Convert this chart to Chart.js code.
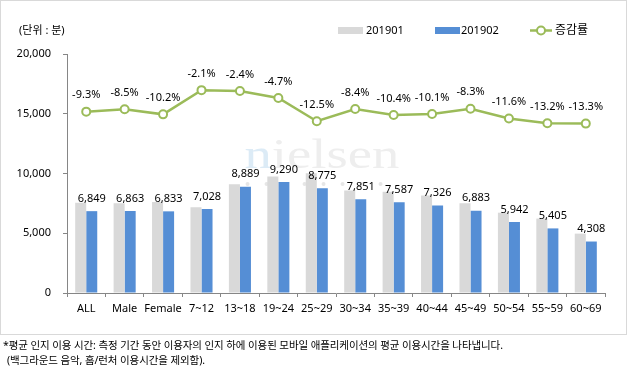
<!DOCTYPE html>
<html>
<head>
<meta charset="utf-8">
<script src="https://cdn.jsdelivr.net/npm/chart.js@4.4.1/dist/chart.umd.min.js"></script>
<style>
  html, body { margin: 0; padding: 0; background: #fff; }
  #wrap { position: relative; width: 630px; height: 383px; overflow: hidden; }
  #frame { position: absolute; left: 0; top: 0; width: 625px; height: 333px; border: 1px solid #D9D9D9; pointer-events: none; }
  #c { position: absolute; left: 0; top: 0; }
  .note { position: absolute; font-family: 'Noto Sans', 'Noto Sans CJK KR', sans-serif; font-size: 10.5px; color: #000; white-space: nowrap; line-height: 14px; }
</style>
</head>
<body>
<div id="wrap">
  <canvas id="c" width="630" height="383"></canvas>
  <div id="frame"></div>
  <div class="note" style="left:3px; top:338px; letter-spacing:-0.1px;">*평균 인지 이용 시간: 측정 기간 동안 이용자의 인지 하에 이용된 모바일 애플리케이션의 평균 이용시간을 나타냅니다.</div>
  <div class="note" style="left:7px; top:353px; letter-spacing:-0.1px;">(백그라운드 음악, 홈/런처 이용시간을 제외함).</div>
</div>
<script>
// ---- data ----
const categories = ['ALL', 'Male', 'Female', '7~12', '13~18', '19~24', '25~29', '30~34', '35~39', '40~44', '45~49', '50~54', '55~59', '60~69'];
const series201901 = [7551, 7501, 7609, 7179, 9108, 9748, 10029, 8571, 8468, 8149, 7506, 6722, 6227, 4969];
const series201902 = [6849, 6863, 6833, 7028, 8889, 9290, 8775, 7851, 7587, 7326, 6883, 5942, 5405, 4308];
const changeRate = [-9.3, -8.5, -10.2, -2.1, -2.4, -4.7, -12.5, -8.4, -10.4, -10.1, -8.3, -11.6, -13.2, -13.3];
const yTicks = [0, 5000, 10000, 15000, 20000];
const legendLabels = ['201901', '201902', '증감률'];
const unitLabel = '(단위 : 분)';
const watermarkText = 'nielsen';

const FONT = "'Noto Sans', 'Noto Sans CJK KR', sans-serif";
const GRAY = '#D9D9D9';
const BLUE = '#558ED5';
const GREEN = '#9BBB59';
const AXIS = '#868686';

const fmt = v => v.toLocaleString('en-US');

const decoPlugin = {
  id: 'deco',
  beforeDatasetsDraw(chart) {
    const ctx = chart.ctx;
    const a = chart.chartArea;
    ctx.save();
    // watermark
    const cx = a.left + (a.right - a.left) * 0.33;
    const cy = a.top + 114;
    ctx.translate(cx, cy);
    ctx.scale(1.3, 1);
    ctx.font = "42px 'Liberation Serif', serif";
    ctx.textBaseline = 'alphabetic';
    ctx.textAlign = 'left';
    ctx.fillStyle = '#DCEBF6';
    ctx.fillText(watermarkText[0], 0, 0);
    const w0 = ctx.measureText(watermarkText[0]).width;
    ctx.fillStyle = '#EEEEEE';
    ctx.fillText(watermarkText.slice(1), w0, 0);
    ctx.restore();
    ctx.save();
    ctx.fillStyle = '#E6E6E6';
    for (let i = 0; i < 8; i++) {
      ctx.beginPath();
      ctx.arc(cx + 3 + i * 19, cy + 16, 2, 0, Math.PI * 2);
      ctx.fill();
    }
    ctx.restore();
  },
  afterDatasetsDraw(chart) {
    const ctx = chart.ctx;
    ctx.save();
    ctx.font = '11px ' + FONT;
    ctx.fillStyle = '#000';
    ctx.textAlign = 'center';
    ctx.textBaseline = 'middle';
    const barMeta = chart.getDatasetMeta(1);
    barMeta.data.forEach((el, i) => {
      ctx.fillText(fmt(series201902[i]), el.x, el.y - 12.5);
    });
    const lineMeta = chart.getDatasetMeta(2);
    lineMeta.data.forEach((el, i) => {
      ctx.fillText(changeRate[i].toFixed(1) + '%', el.x, el.y - 16.5);
    });
    ctx.restore();
  },
  afterDraw(chart) {
    const ctx = chart.ctx;
    ctx.save();
    ctx.textBaseline = 'middle';
    ctx.textAlign = 'left';
    ctx.fillStyle = '#000';
    ctx.font = '11px ' + FONT;
    ctx.fillText(unitLabel, 19, 30.5);
    const ly = 30.5;
    ctx.fillStyle = GRAY;
    ctx.fillRect(338, ly - 3.5, 25, 7);
    ctx.fillStyle = '#000';
    ctx.fillText(legendLabels[0], 366, ly);
    ctx.fillStyle = BLUE;
    ctx.fillRect(435, ly - 3.5, 25, 7);
    ctx.fillStyle = '#000';
    ctx.fillText(legendLabels[1], 461, ly);
    ctx.strokeStyle = GREEN;
    ctx.lineWidth = 2.5;
    ctx.beginPath();
    ctx.moveTo(530, ly);
    ctx.lineTo(552, ly);
    ctx.stroke();
    ctx.beginPath();
    ctx.arc(541, ly, 4, 0, Math.PI * 2);
    ctx.fillStyle = '#fff';
    ctx.fill();
    ctx.lineWidth = 2;
    ctx.stroke();
    ctx.fillStyle = '#000';
    ctx.font = '12px ' + FONT;
    ctx.fillText(legendLabels[2], 555, ly);
    ctx.restore();
  }
};

new Chart(document.getElementById('c'), {
  data: {
    labels: categories,
    datasets: [
      { type: 'bar', label: legendLabels[0], data: series201901, backgroundColor: GRAY, yAxisID: 'y', order: 2,
        categoryPercentage: 0.574, barPercentage: 1.0 },
      { type: 'bar', label: legendLabels[1], data: series201902, backgroundColor: BLUE, yAxisID: 'y', order: 2,
        categoryPercentage: 0.574, barPercentage: 1.0 },
      { type: 'line', label: legendLabels[2], data: changeRate, yAxisID: 'y2', order: 0,
        borderColor: GREEN, borderWidth: 2.5, tension: 0,
        pointRadius: 4, pointBorderWidth: 2, pointBackgroundColor: '#fff', pointBorderColor: GREEN }
    ]
  },
  options: {
    responsive: false,
    animation: false,
    devicePixelRatio: 1,
    layout: { padding: { left: 0, top: 54, right: 25, bottom: 50 } },
    plugins: { legend: { display: false }, tooltip: { enabled: false } },
    scales: {
      x: {
        grid: { display: true, drawOnChartArea: false, drawTicks: true, tickLength: 4, color: AXIS, offset: true },
        border: { display: true, color: AXIS },
        ticks: { color: '#000', font: { family: FONT, size: 11 }, padding: 5, maxRotation: 0, autoSkip: false },
        afterFit(s) { s.height = 40; }
      },
      y: {
        min: 0, max: 20000,
        afterBuildTicks(s) { s.ticks = yTicks.map(v => ({ value: v })); },
        grid: { display: true, drawOnChartArea: false, drawTicks: true, tickLength: 4, color: AXIS },
        border: { display: true, color: AXIS },
        ticks: { color: '#000', font: { family: FONT, size: 11 }, padding: 12, callback: v => fmt(v) },
        afterFit(s) { s.width = 67; }
      },
      y2: { display: false, min: -70, max: 10, position: 'right' }
    }
  },
  plugins: [decoPlugin]
});
</script>
</body>
</html>
